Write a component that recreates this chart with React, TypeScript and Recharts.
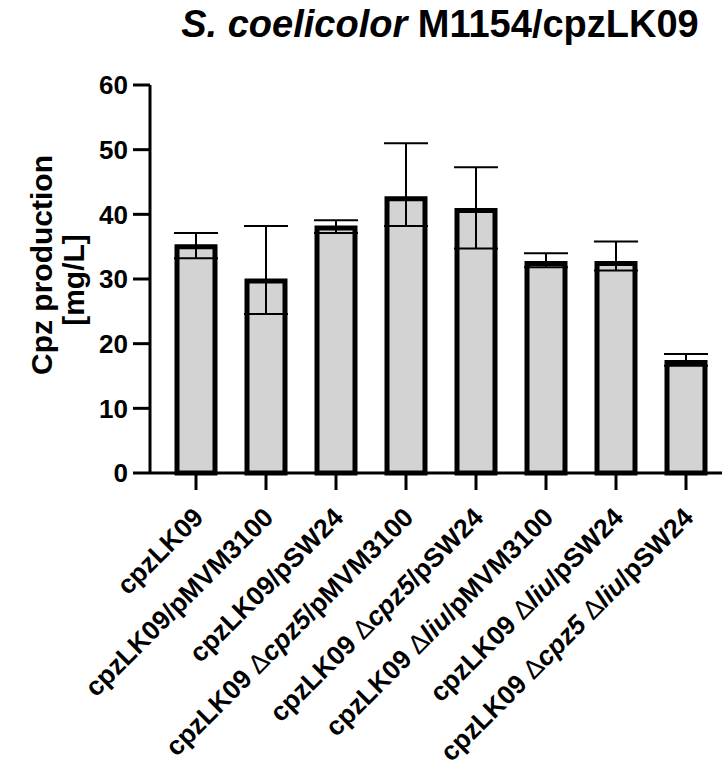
import React from "react";
import { BarChart, Bar, XAxis, YAxis, ErrorBar } from "recharts";

const categories = [
  "cpzLK09",
  "cpzLK09/pMVM3100",
  "cpzLK09/pSW24",
  "cpzLK09 Δcpz5/pMVM3100",
  "cpzLK09 Δcpz5/pSW24",
  "cpzLK09 Δliu/pMVM3100",
  "cpzLK09 Δliu/pSW24",
  "cpzLK09 Δcpz5 Δliu/pSW24",
];
const means = [35.0, 29.7, 37.9, 42.4, 40.6, 32.4, 32.4, 17.1];
const lower = [33.2, 24.6, 37.1, 38.2, 34.7, 31.8, 31.3, 16.6];
const upper = [37.1, 38.2, 39.1, 51.0, 47.3, 34.0, 35.8, 18.4];
const yTicks = [0, 10, 20, 30, 40, 50, 60];

const FONT = "'Liberation Sans', Arial, sans-serif";

const data = categories.map((name, i) => ({
  name,
  value: means[i],
  err: [means[i] - lower[i], upper[i] - means[i]],
}));

// "cpzLK09 Δcpz5/pSW24" -> plain / thin delta / italic gene / plain
function splitLabel(label: string) {
  const segs = label.split("Δ");
  const out: { t: string; kind: "plain" | "delta" | "italic" }[] = [];
  out.push({ t: segs[0], kind: "plain" });
  segs.slice(1).forEach((s) => {
    out.push({ t: "Δ", kind: "delta" });
    const m = s.match(/^([^/ ]+)(.*)$/);
    if (m) {
      out.push({ t: m[1], kind: "italic" });
      if (m[2]) out.push({ t: m[2], kind: "plain" });
    }
  });
  return out;
}

const XTick = (props: any) => {
  const { x, y, payload } = props;
  const parts = splitLabel(payload.value);
  return (
    <g transform={`translate(${x + 9},${y + 27})`}>
      <text
        transform="rotate(-45)"
        textAnchor="end"
        fontSize={26.5}
        fontWeight="bold"
        fontFamily={FONT}
        fill="#000"
        style={{ whiteSpace: "pre" }}
      >
        {parts.map((p, i) => (
          <tspan
            key={i}
            fontWeight={p.kind === "delta" ? "normal" : "bold"}
            fontStyle={p.kind === "italic" ? "italic" : "normal"}
          >
            {p.t}
          </tspan>
        ))}
      </text>
    </g>
  );
};

const YTitle = () => (
  <g fontFamily={FONT} fontWeight="bold" fontSize={30} fill="#000">
    <text transform="translate(52,265) rotate(-90)" textAnchor="middle">
      Cpz production
    </text>
    <text transform="translate(84,280) rotate(-90)" textAnchor="middle">
      [mg/L]
    </text>
  </g>
);

export default function App() {
  return (
    <div style={{ position: "absolute", left: 0, top: 0, width: 724, height: 782, background: "#fff" }}>
      <svg width={724} height={60} style={{ position: "absolute", left: 0, top: 0 }}>
        <text x={440} y={37} textAnchor="middle" fontFamily={FONT} fontWeight="bold" fontSize={38} fill="#000">
          <tspan fontStyle="italic">S. coelicolor</tspan>
          <tspan> M1154/cpzLK09</tspan>
        </text>
      </svg>
      <BarChart
        width={724}
        height={782}
        data={data}
        margin={{ top: 85, right: 2, left: 80, bottom: 0 }}
        style={{ position: "absolute", left: 0, top: 0 }}
      >
        <XAxis
          dataKey="name"
          interval={0}
          height={309}
          padding={{ left: 11, right: 1 }}
          axisLine={{ stroke: "#000", strokeWidth: 3 }}
          tickLine={{ stroke: "#000", strokeWidth: 3 }}
          tickSize={17}
          tickMargin={2}
          tick={<XTick />}
        />
        <YAxis
          domain={[0, 60]}
          ticks={yTicks}
          width={70}
          axisLine={{ stroke: "#000", strokeWidth: 3 }}
          tickLine={{ stroke: "#000", strokeWidth: 3 }}
          tickSize={17}
          tickMargin={5}
          tick={{ fill: "#000", fontSize: 26, fontWeight: "bold", fontFamily: FONT }}
          label={{ content: <YTitle /> }}
        />
        <Bar
          dataKey="value"
          fill="#d3d3d3"
          stroke="#000"
          strokeWidth={5}
          barSize={38}
          isAnimationActive={false}
        >
          <ErrorBar dataKey="err" width={22} stroke="#000" strokeWidth={2} direction="y" />
        </Bar>
      </BarChart>
    </div>
  );
}
